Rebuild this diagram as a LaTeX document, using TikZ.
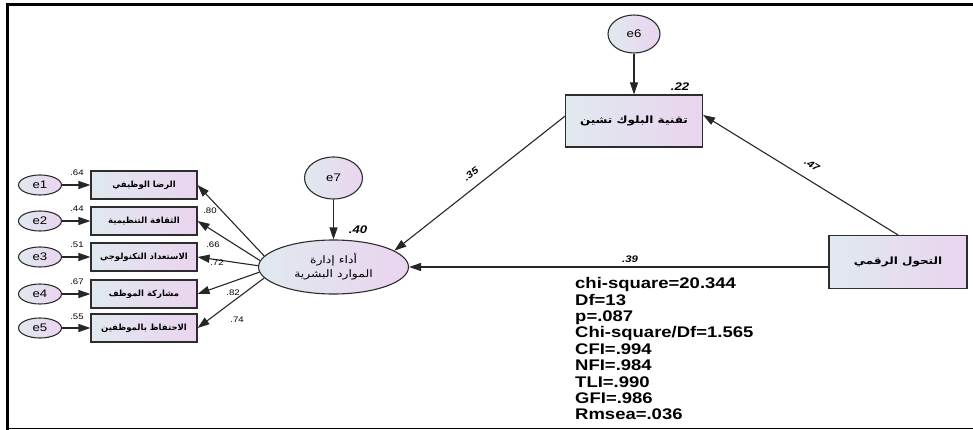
\documentclass[tikz,border=0pt]{standalone}
\usepackage{fontspec}
\usetikzlibrary{arrows.meta,shapes.geometric}
\TeXXeTstate=1
\newfontfamily\lsans[FakeStretch=1.2]{Liberation Sans}
\newfontfamily\arabicfont[Script=Arabic,FakeStretch=1.2]{DejaVu Sans}
\newfontfamily\arabicplain[Script=Arabic]{DejaVu Sans}
\definecolor{fillL}{RGB}{224,233,239}
\definecolor{fillR}{RGB}{234,212,239}
\definecolor{edgec}{RGB}{45,45,45}
\begin{document}
\begin{tikzpicture}[x=1pt,y=-1pt,
  obs/.style={draw=edgec, line width=1.1pt, rectangle, left color=fillL, right color=fillR, inner sep=0pt},
  lat/.style={draw=edgec, line width=1.1pt, ellipse, left color=fillL, right color=fillR, inner sep=0pt},
  arr/.style={draw=black!85, line width=1.1pt, -{Triangle[length=12pt,width=8pt]}},
  ld/.style={font=\lsans\fontsize{8}{8}\selectfont, inner sep=0pt},
  coef/.style={font=\lsans\bfseries\itshape\fontsize{11}{11}\selectfont, inner sep=0pt},
  pcoef/.style={font=\lsans\bfseries\itshape\fontsize{9.5}{9.5}\selectfont, inner sep=0pt},
  elab/.style={font=\lsans\fontsize{11}{11}\selectfont},
  artxt/.style={font=\arabicfont\bfseries\fontsize{10}{12}\selectfont},
  arsmall/.style={font=\arabicplain\bfseries\fontsize{8.5}{10}\selectfont},
  stat/.style={font=\lsans\bfseries\fontsize{15.4}{16.4}\selectfont, inner sep=0pt, anchor=base west},
  smallbox/.style={obs, minimum width=106pt, minimum height=28pt, arsmall},
  errs/.style={lat, minimum width=43pt, minimum height=20pt, elab}
]
\useasboundingbox (0,0) rectangle (973,430);
% frame
\draw[line width=3pt] (6,4.7) -- (973,4.7);
\draw[line width=3pt] (7.5,3.2) -- (7.5,430);
\draw[line width=1pt] (6,428.3) -- (973,428.3);

% indicators
\node[errs] (e1) at (40,185) {e1};
\node[errs] (e2) at (40,221) {e2};
\node[errs] (e3) at (40,257) {e3};
\node[errs] (e4) at (40,294) {e4};
\node[errs] (e5) at (40,328) {e5};

\node[smallbox] (b1) at (144,185) {\beginR الرضا الوظيفي\endR};
\node[smallbox] (b2) at (144,221) {\beginR الثقافة التنظيمية\endR};
\node[smallbox] (b3) at (144,257) {\beginR الاستعداد التكنولوجي\endR};
\node[smallbox] (b4) at (144,294) {\beginR مشاركة الموظف\endR};
\node[smallbox] (b5) at (144,328) {\beginR الاحتفاظ بالموظفين\endR};

\foreach \i in {1,...,5}{\draw[arr] (e\i) -- (b\i);}

\node[ld] (r1) at (77,173) {.64};
\node[ld] (r2) at (77,209) {.44};
\node[ld] (r3) at (77,245) {.51};
\node[ld] (r4) at (77,282) {.67};
\node[ld] (r5) at (77,317) {.55};

% latent HR
\node[lat, minimum width=150pt, minimum height=54pt, align=center, font=\arabicfont\fontsize{10.3}{14}\selectfont] (hr) at (333.5,267) {\beginR أداء إدارة\endR\\\beginR الموارد البشرية\endR};
\node[lat, minimum width=58pt, minimum height=42pt, elab] (e7) at (333.5,178) {e7};
\draw[arr] (e7) -- (hr);
\node[coef] (c40) at (358,230) {.40};

\draw[arr] (hr.171) -- (b1.east);
\draw[arr] (hr.175) -- (b2.east);
\draw[arr] (hr.179) -- (b3.east);
\draw[arr] (hr.184) -- (b4.east);
\draw[arr] (hr.189) -- (b5.east);
\node[ld] (l1) at (210,211) {.80};
\node[ld] (l2) at (213,245) {.66};
\node[ld] (l3) at (217,263) {.72};
\node[ld] (l4) at (233,293) {.82};
\node[ld] (l5) at (237,320) {.74};

% blockchain
\node[obs, minimum width=137pt, minimum height=52pt, artxt] (tb) at (634,121) {\beginR تقنية البلوك تشين\endR};
\node[lat, minimum width=52pt, minimum height=38pt, elab] (e6) at (634,34) {e6};
\draw[arr] (e6) -- (tb);
\node[coef] (c22) at (680,87) {.22};

% digital transformation
\node[obs, minimum width=138pt, minimum height=53pt, artxt] (rb) at (898,262) {\beginR التحول الرقمي\endR};

\draw[arr] (rb.north) -- (tb.5);
\draw[arr] (tb.176) -- (hr.15);
\draw[arr] (rb.west |- hr.east) -- (hr.east);

\node[pcoef, rotate=-31.4] (p47) at (812,165) {.47};
\node[pcoef, rotate=37.7] (p35) at (471,174) {.35};
\node[pcoef] (p39) at (630,259) {.39};

% fit statistics
\foreach \i/\t in {1/{chi-square=20.344},2/{Df=13},3/{p=.087},4/{Chi-square/Df=1.565},5/{CFI=.994},6/{NFI=.984},7/{TLI=.990},8/{GFI=.986},9/{Rmsea=.036}}{
  \node[stat] (s\i) at (575,{288.7+16.4*(\i-1)}) {\t};
}
\end{tikzpicture}
\end{document}
